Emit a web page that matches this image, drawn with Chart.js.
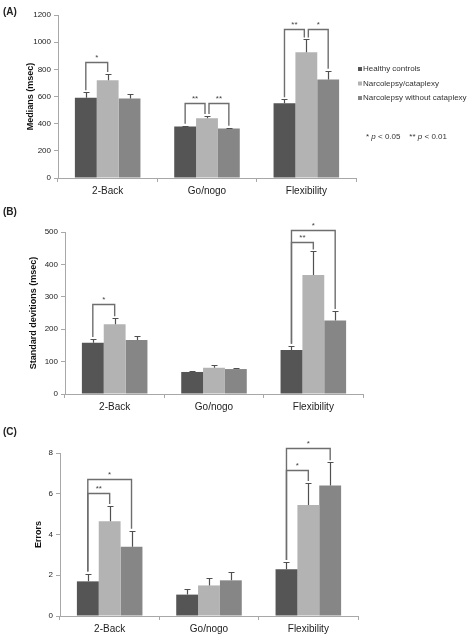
<!DOCTYPE html>
<html>
<head>
<meta charset="utf-8">
<script src="https://cdn.jsdelivr.net/npm/chart.js@4.4.1/dist/chart.umd.min.js"></script>
<style>
  html, body { margin: 0; padding: 0; background: #fff; }
  body { width: 468px; height: 639px; position: relative; overflow: hidden; }
  canvas { position: absolute; left: 0; }
</style>
</head>
<body>
<canvas id="panelA" width="468" height="200" style="top:0"></canvas>
<canvas id="panelB" width="468" height="220" style="top:200px"></canvas>
<canvas id="panelC" width="468" height="219" style="top:420px"></canvas>
<script>
const groups = ['2-Back', 'Go/nogo', 'Flexibility'];
const seriesNames = ['Healthy controls', 'Narcolepsy/cataplexy', 'Narcolepsy without cataplexy'];
const seriesColors = ['#555555', '#b3b3b3', '#868686'];

// (A) medians (msec) and upper error amounts
const medHealthy = [590, 380, 550];
const medCataplexy = [720, 440, 925];
const medNoCataplexy = [585, 365, 725];
const medHealthyErr = [42, 5, 30];
const medCataplexyErr = [46, 17, 95];
const medNoCataplexyErr = [33, 5, 65];
const medTicks = [0, 200, 400, 600, 800, 1000, 1200];

// (B) standard deviations (msec)
const sdHealthy = [158, 68, 136];
const sdCataplexy = [215, 81, 367];
const sdNoCataplexy = [167, 77, 227];
const sdHealthyErr = [12, 3, 13];
const sdCataplexyErr = [19, 7, 73];
const sdNoCataplexyErr = [11, 4, 29];
const sdTicks = [0, 100, 200, 300, 400, 500];

// (C) errors
const errHealthy = [1.7, 1.05, 2.3];
const errCataplexy = [4.65, 1.5, 5.45];
const errNoCataplexy = [3.4, 1.75, 6.4];
const errHealthyErr = [0.38, 0.29, 0.35];
const errCataplexyErr = [0.75, 0.35, 1.08];
const errNoCataplexyErr = [0.78, 0.42, 1.15];
const errTicks = [0, 2, 4, 6, 8];

// significance brackets: [group, from series, to series, bracket level, label]
const sigA = [[0, 0, 1, 855, '*'], [1, 0, 1, 552, '**'], [1, 1, 2, 552, '**'], [2, 0, 1, 1098, '**'], [2, 1, 2, 1098, '*']];
const sigB = [[0, 0, 1, 278, '*'], [2, 0, 1, 468, '**'], [2, 0, 2, 505, '*']];
const sigC = [[0, 0, 1, 6.05, '**'], [0, 0, 2, 6.72, '*'], [2, 0, 1, 7.18, '*'], [2, 0, 2, 8.23, '*']];

const FONT = '"Liberation Sans", Arial, sans-serif';
const AXIS = '#a8a8a8';

const extras = {
    id: 'extras',
    afterDatasetsDraw(chart, args, o) {
        const ctx = chart.ctx;
        const y = chart.scales.y;
        const tops = chart.data.datasets.map((ds, i) => ds.data.map((v, j) => v + o.errors[i][j]));
        ctx.save();
        // error bars
        ctx.strokeStyle = '#505050';
        ctx.lineWidth = 1.2;
        chart.data.datasets.forEach((ds, i) => {
            chart.getDatasetMeta(i).data.forEach((bar, j) => {
                const t = Math.round(y.getPixelForValue(tops[i][j])) + 0.5;
                const x = Math.round(bar.x) + 0.5;
                ctx.beginPath();
                ctx.moveTo(x, bar.y);
                ctx.lineTo(x, t);
                ctx.moveTo(x - 3, t);
                ctx.lineTo(x + 3, t);
                ctx.stroke();
            });
        });
        // brackets
        ctx.strokeStyle = '#6e6e6e';
        ctx.lineWidth = 1.4;
        ctx.fillStyle = '#444';
        ctx.font = '8px ' + FONT;
        ctx.textAlign = 'center';
        ctx.textBaseline = 'alphabetic';
        o.brackets.forEach((k) => {
            const [cat, a, b, level, label] = k;
            let xa = chart.getDatasetMeta(a).data[cat].x;
            let xb = chart.getDatasetMeta(b).data[cat].x;
            if (o.brackets.some(m => m !== k && m[0] === cat && m[3] === level && m[1] === b)) xb -= 2;
            if (o.brackets.some(m => m !== k && m[0] === cat && m[3] === level && m[2] === a)) xa += 2;
            const ly = Math.round(y.getPixelForValue(level)) + 0.5;
            const ya = y.getPixelForValue(tops[a][cat]) - 2;
            const yb = y.getPixelForValue(tops[b][cat]) - 2;
            ctx.beginPath();
            ctx.moveTo(xa, ya);
            ctx.lineTo(xa, ly);
            ctx.lineTo(xb, ly);
            ctx.lineTo(xb, yb);
            ctx.stroke();
            ctx.fillText(label, (xa + xb) / 2, ly - 3);
        });
        // panel letter
        ctx.fillStyle = '#222';
        ctx.font = 'bold 10px ' + FONT;
        ctx.textAlign = 'left';
        ctx.textBaseline = 'middle';
        ctx.fillText(o.letter, 3, 12);
        // legend and p-value note
        if (o.legend) {
            ctx.font = '8px ' + FONT;
            chart.data.datasets.forEach((ds, i) => {
                const ly = 69 + i * 14.5;
                ctx.fillStyle = ds.backgroundColor;
                ctx.fillRect(358, ly - 2, 4, 4);
                ctx.fillStyle = '#333';
                ctx.fillText(ds.label, 363, ly);
            });
            const parts = [['* ', ''], ['p', 'italic '], [' < 0.05    ** ', ''], ['p', 'italic '], [' < 0.01', '']];
            let px = 366;
            parts.forEach(([txt, style]) => {
                ctx.font = style + '8px ' + FONT;
                ctx.fillText(txt, px, 137);
                px += ctx.measureText(txt).width;
            });
        }
        ctx.restore();
    }
};

function makePanel(id, p) {
    const ctx = document.getElementById(id).getContext('2d');
    return new Chart(ctx, {
        type: 'bar',
        data: {
            labels: groups,
            datasets: p.values.map((vals, i) => ({
                label: seriesNames[i],
                data: vals,
                backgroundColor: seriesColors[i],
                borderWidth: 0,
                barPercentage: 1,
                categoryPercentage: 0.66
            }))
        },
        options: {
            responsive: false,
            animation: false,
            events: [],
            layout: { padding: { top: p.top, right: p.right, left: 0, bottom: 0 } },
            plugins: {
                legend: { display: false },
                tooltip: { enabled: false },
                extras: { errors: p.errors, brackets: p.brackets, letter: p.letter, legend: p.legend }
            },
            scales: {
                x: {
                    grid: { display: true, drawOnChartArea: false, drawTicks: true, tickLength: 4, color: AXIS, offset: true },
                    border: { display: true, color: AXIS, width: 1 },
                    ticks: { color: '#222', font: { family: FONT, size: 10 }, padding: 3 },
                    afterFit: (s) => { s.height = p.xh; }
                },
                y: {
                    min: p.ticks[0],
                    max: p.ticks[p.ticks.length - 1],
                    afterBuildTicks: (s) => { s.ticks = p.ticks.map(v => ({ value: v })); },
                    grid: { display: true, drawOnChartArea: false, drawTicks: true, tickLength: 4, color: AXIS },
                    border: { display: true, color: AXIS, width: 1 },
                    ticks: { color: '#222', font: { family: FONT, size: 8 }, padding: 3, callback: (v) => String(v) },
                    title: { display: true, text: p.title, color: '#111', font: { family: FONT, size: 9, weight: 'bold' }, padding: { top: p.titlePad, bottom: 0 } },
                    afterFit: (s) => { s.width = p.yw; }
                }
            }
        },
        plugins: [extras]
    });
}

makePanel('panelA', {
    values: [medHealthy, medCataplexy, medNoCataplexy],
    errors: [medHealthyErr, medCataplexyErr, medNoCataplexyErr],
    brackets: sigA, ticks: medTicks, title: 'Medians (msec)', letter: '(A)', legend: true,
    top: 15, right: 112, yw: 58, xh: 22, titlePad: 25
});
makePanel('panelB', {
    values: [sdHealthy, sdCataplexy, sdNoCataplexy],
    errors: [sdHealthyErr, sdCataplexyErr, sdNoCataplexyErr],
    brackets: sigB, ticks: sdTicks, title: 'Standard devitions (msec)', letter: '(B)', legend: false,
    top: 32, right: 105, yw: 65, xh: 26, titlePad: 28
});
makePanel('panelC', {
    values: [errHealthy, errCataplexy, errNoCataplexy],
    errors: [errHealthyErr, errCataplexyErr, errNoCataplexyErr],
    brackets: sigC, ticks: errTicks, title: 'Errors', letter: '(C)', legend: false,
    top: 33, right: 110, yw: 60, xh: 23, titlePad: 33
});
</script>
</body>
</html>
